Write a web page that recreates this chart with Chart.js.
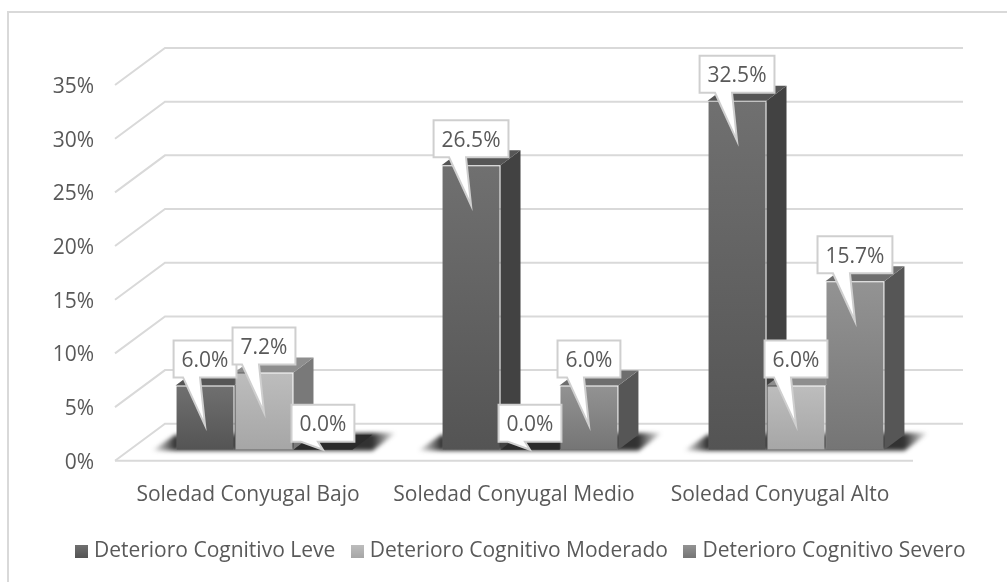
<!DOCTYPE html>
<html>
<head>
<meta charset="utf-8">
<script src="https://cdn.jsdelivr.net/npm/chart.js@4"></script>
<style>
  html, body { margin: 0; padding: 0; background: #fff; }
  #marco { position: absolute; left: 7px; top: 11px; width: 1000px; height: 571px; border-top: 2px solid #d9d9d9; border-left: 2px solid #d9d9d9; box-sizing: border-box; }
  /* la figura original esta algo desenfocada */
  canvas { position: absolute; left: 0; top: 0; filter: blur(0.5px); }
</style>
</head>
<body>
<div id="marco"></div>
<canvas id="grafico" width="1007" height="582"></canvas>
<script>
// Datos
const categorias = ["Soledad Conyugal Bajo", "Soledad Conyugal Medio", "Soledad Conyugal Alto"];
const leve = [6.0, 26.5, 32.5];
const moderado = [7.2, 0.0, 6.0];
const severo = [0.0, 6.0, 15.7];
const ticksY = [0, 5, 10, 15, 20, 25, 30, 35];

// Profundidad de las barras y del suelo, en pixeles
const FONDO_X = 20, FONDO_Y = -15;
const PARED_X = 34, PARED_Y = -26;
const FRENTE_X = -16, FRENTE_Y = 11;
const FUENTE = "'Open Sans', sans-serif";
const TAM_FUENTE = 21;

const estilos = [
  { arriba: "#707070", abajo: "#545454", lado: "#424242", tapa: "#565656" },
  { arriba: "#bdbdbd", abajo: "#a6a6a6", lado: "#797979", tapa: "#8e8e8e" },
  { arriba: "#939393", abajo: "#757575", lado: "#565656", tapa: "#6e6e6e" }
];

function relleno(i) {
  return (ctx) => {
    const est = estilos[i];
    const y = ctx.chart.scales.y;
    if (ctx.type !== "data" || !y || !ctx.parsed) return est.abajo;
    const y1 = y.getPixelForValue(ctx.parsed.y);
    const y2 = y.getPixelForValue(0);
    if (!Number.isFinite(y1) || !Number.isFinite(y2)) return est.abajo;
    const g = ctx.chart.ctx.createLinearGradient(0, y1, 0, y2);
    g.addColorStop(0, est.arriba);
    g.addColorStop(1, est.abajo);
    return g;
  };
}

// cuadradito de la leyenda, con el mismo degradado que la barra
function muestra(est) {
  const m = document.createElement("canvas");
  m.width = 13;
  m.height = 13;
  const c = m.getContext("2d");
  const g = c.createLinearGradient(0, 0, 0, 13);
  g.addColorStop(0, est.arriba);
  g.addColorStop(1, est.abajo);
  c.fillStyle = g;
  c.fillRect(0, 0, 13, 13);
  return m;
}

function poligono(c, puntos, color) {
  c.beginPath();
  puntos.forEach((p, i) => (i ? c.lineTo(p[0], p[1]) : c.moveTo(p[0], p[1])));
  c.closePath();
  c.fillStyle = color;
  c.fill();
}

const plugin3d = {
  id: "plugin3d",
  afterLayout(chart) {
    // la leyenda no va centrada en el lienzo
    chart.legend.left = 0;
    chart.legend.right = 1045;
    chart.legend.top = 521;
  },
  beforeDatasetsDraw(chart) {
    const c = chart.ctx;
    const { x, y } = chart.scales;
    const izq = x.left, der = x.right;
    c.save();
    c.strokeStyle = "#d9d9d9";
    c.lineWidth = 2;
    ticksY.forEach((t) => {
      const py = y.getPixelForValue(t);
      c.beginPath();
      c.moveTo(izq + FRENTE_X, py + FRENTE_Y);
      c.lineTo(izq + PARED_X, py + PARED_Y);
      c.lineTo(der + PARED_X, py + PARED_Y);
      c.stroke();
    });
    const y0 = y.getPixelForValue(0);
    c.beginPath();
    c.moveTo(izq + FRENTE_X, y0 + FRENTE_Y);
    c.lineTo(der + FRENTE_X, y0 + FRENTE_Y);
    c.stroke();

    // sombra en el suelo, se apaga hacia las puntas
    c.save();
    c.filter = "blur(2px)";
    categorias.forEach((_, j) => {
      const a = chart.getDatasetMeta(0).data[j];
      const b = chart.getDatasetMeta(2).data[j];
      const L = a.x - a.width / 2, R = b.x + b.width / 2;
      const x1 = L - 24, x2 = R + FONDO_X + 24;
      const g = c.createLinearGradient(x1, 0, x2, 0);
      const borde = 24 / (x2 - x1);
      g.addColorStop(0, "rgba(50,50,50,0)");
      g.addColorStop(borde, "rgba(50,50,50,1)");
      g.addColorStop(1 - borde, "rgba(50,50,50,1)");
      g.addColorStop(1, "rgba(50,50,50,0)");
      poligono(c, [[x1, y0 + 1], [L, y0 + FONDO_Y], [x2, y0 + FONDO_Y - 2], [R + FONDO_X, y0 + 1]], g);
    });
    c.restore();

    // caras lateral y superior, de atras hacia delante; el frente lo pinta Chart.js despues
    chart.data.datasets.forEach((ds, i) => {
      const est = estilos[i];
      chart.getDatasetMeta(i).data.forEach((bar, j) => {
        const L = bar.x - bar.width / 2, R = bar.x + bar.width / 2;
        const cero = ds.data[j] === 0;
        poligono(c, [[R, bar.y], [R + FONDO_X, bar.y + FONDO_Y], [R + FONDO_X, bar.base + FONDO_Y], [R, bar.base]], est.lado);
        poligono(c, [[L, bar.y], [R, bar.y], [R + FONDO_X, bar.y + FONDO_Y], [L + FONDO_X, bar.y + FONDO_Y]], cero ? "#2b2b2b" : est.tapa);
      });
    });
    c.restore();
  },
  afterDatasetsDraw(chart) {
    const c = chart.ctx;
    c.save();
    c.font = TAM_FUENTE + "px " + FUENTE;
    c.textAlign = "center";
    c.textBaseline = "middle";
    chart.data.datasets.forEach((ds, i) => {
      chart.getDatasetMeta(i).data.forEach((bar, j) => {
        const texto = ds.data[j].toFixed(1) + "%";
        const ancho = c.measureText(texto).width + 16;
        const abajo = bar.y - 8;
        const arriba = abajo - 37;
        const izq = bar.x - ancho / 2, der = bar.x + ancho / 2;
        const punta = Math.min(bar.y + 40, bar.base);
        c.beginPath();
        c.moveTo(izq, arriba);
        c.lineTo(der, arriba);
        c.lineTo(der, abajo);
        c.lineTo(bar.x - 5, abajo);
        c.lineTo(bar.x, punta);
        c.lineTo(bar.x - 22, abajo);
        c.lineTo(izq, abajo);
        c.closePath();
        c.fillStyle = "#ffffff";
        c.fill();
        c.strokeStyle = "#cfcfcf";
        c.lineWidth = 2;
        c.stroke();
        c.fillStyle = "#595959";
        c.fillText(texto, bar.x, (arriba + abajo) / 2 + 2);
      });
    });
    c.restore();
  }
};

function crearGrafico() {
  const series = [
    { label: "Deterioro Cognitivo Leve", data: leve },
    { label: "Deterioro Cognitivo Moderado", data: moderado },
    { label: "Deterioro Cognitivo Severo", data: severo }
  ];

  new Chart(document.getElementById("grafico").getContext("2d"), {
    type: "bar",
    plugins: [plugin3d],
    data: {
      labels: categorias,
      datasets: series.map((s, i) => ({
        label: s.label,
        data: s.data,
        backgroundColor: relleno(i),
        borderWidth: 1,
        borderColor: "rgba(255,255,255,0.14)",
        categoryPercentage: 0.665,
        barPercentage: 1
      }))
    },
    options: {
      responsive: false,
      animation: false,
      layout: { padding: { top: 74, left: 0, right: 78, bottom: -2 } },
      plugins: {
        tooltip: { enabled: false },
        legend: {
          position: "bottom",
          labels: {
            usePointStyle: true,
            pointStyleWidth: 4,
            padding: 20,
            color: "#595959",
            font: { family: FUENTE, size: TAM_FUENTE },
            generateLabels(chart) {
              return Chart.defaults.plugins.legend.labels.generateLabels(chart).map((it, i) => {
                it.pointStyle = muestra(estilos[i]);
                return it;
              });
            }
          }
        }
      },
      scales: {
        x: {
          grid: { display: false },
          border: { display: false },
          ticks: {
            color: "#595959",
            font: { family: FUENTE, size: TAM_FUENTE },
            padding: 25,
            labelOffset: FRENTE_X,
            maxRotation: 0
          }
        },
        y: {
          min: 0,
          max: 35,
          afterBuildTicks(scale) {
            scale.ticks = ticksY.map((v) => ({ value: v }));
          },
          afterFit(scale) {
            scale.width = 131;
          },
          grid: { display: false },
          border: { display: false },
          ticks: {
            color: "#595959",
            font: { family: FUENTE, size: TAM_FUENTE },
            padding: 29,
            labelOffset: FRENTE_Y + 2,
            callback: (v) => v + "%"
          }
        }
      }
    }
  });
}

window.addEventListener("load", crearGrafico);
</script>
</body>
</html>
